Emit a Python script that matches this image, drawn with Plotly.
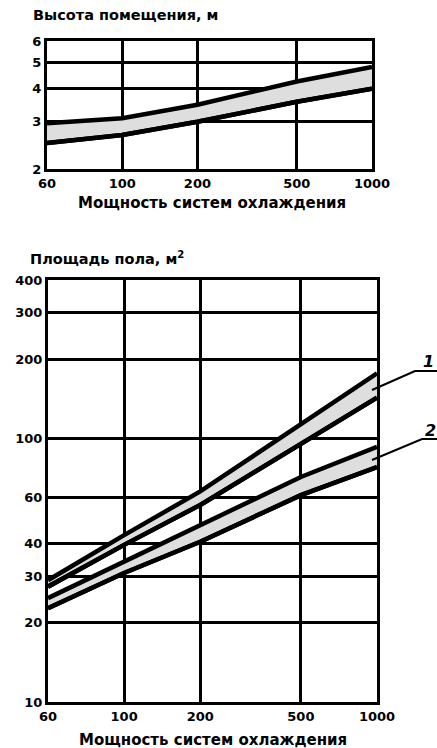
import math
import plotly.graph_objects as go

# ---------------- data ----------------
power = [50, 100, 200, 500, 1000]
power_tick_vals = [50, 100, 200, 500, 1000]
power_tick_text = ["60", "100", "200", "500", "1000"]

height_upper = [2.96, 3.09, 3.47, 4.24, 4.8]
height_lower = [2.5, 2.68, 3.0, 3.56, 3.98]
height_ticks = [2, 3, 4, 5, 6]

area1_upper = [29, 43, 63, 113, 177]
area1_lower = [27.4, 39.5, 56, 96, 143]
area2_upper = [24.8, 34, 47, 71.5, 93]
area2_lower = [22.7, 30.9, 40.6, 61, 78]
area_ticks = [10, 20, 30, 40, 60, 100, 200, 300, 400]

band_labels = ["1", "2"]

W, H = 437, 748
def px(x):
    return x / W
def py(y):
    return 1 - y / H

FONT = "DejaVu Sans"
FILL = "#dedede"
LW = 4.5

fig = go.Figure()

def band(lower, upper, xa, ya):
    fig.add_trace(go.Scatter(x=power, y=lower, mode="lines",
                             line=dict(color="black", width=LW),
                             xaxis=xa, yaxis=ya, showlegend=False, hoverinfo="skip"))
    fig.add_trace(go.Scatter(x=power, y=upper, mode="lines",
                             line=dict(color="black", width=LW),
                             fill="tonexty", fillcolor=FILL,
                             xaxis=xa, yaxis=ya, showlegend=False, hoverinfo="skip"))
    fig.add_trace(go.Scatter(x=power, y=lower, mode="lines",
                             line=dict(color="black", width=LW),
                             xaxis=xa, yaxis=ya, showlegend=False, hoverinfo="skip"))

band(height_lower, height_upper, "x", "y")
band(area1_lower, area1_upper, "x2", "y2")
band(area2_lower, area2_upper, "x2", "y2")

tickfont = dict(family=FONT, size=13, color="black", weight="bold")
common = dict(type="log", showgrid=True, gridcolor="black", gridwidth=3,
              showline=True, linecolor="black", linewidth=3, mirror=True,
              ticks="", tickfont=tickfont, zeroline=False, automargin=False,
              fixedrange=True)

fig.update_layout(
    width=W, height=H,
    margin=dict(l=0, r=0, t=0, b=0, autoexpand=False),
    paper_bgcolor="white", plot_bgcolor="white",
    xaxis=dict(domain=[px(47), px(372)], anchor="y",
               range=[math.log10(50), math.log10(1000)],
               tickvals=power_tick_vals, ticktext=power_tick_text, **common),
    yaxis=dict(domain=[py(169), py(41)], anchor="x",
               range=[math.log10(2), math.log10(6)],
               tickvals=height_ticks, ticktext=[str(v) for v in height_ticks], **common),
    xaxis2=dict(domain=[px(48), px(377)], anchor="y2",
                range=[math.log10(50), math.log10(1000)],
                tickvals=power_tick_vals, ticktext=power_tick_text, **common),
    yaxis2=dict(domain=[py(702), py(280)], anchor="x2",
                range=[math.log10(10), math.log10(400)],
                tickvals=area_ticks, ticktext=[str(v) for v in area_ticks], **common),
)

ann = [
    dict(text="Высота помещения, м", x=px(31), y=py(15), xanchor="left", yanchor="middle", size=14.5),
    dict(text="Мощность систем охлаждения", x=px(212), y=py(203), xanchor="center", yanchor="middle", size=15),
    dict(text="Площадь пола, м<sup>2</sup>", x=px(28), y=py(258), xanchor="left", yanchor="middle", size=14.5),
    dict(text="Мощность систем охлаждения", x=px(213), y=py(740), xanchor="center", yanchor="middle", size=15),
]
for a in ann:
    size = a.pop("size")
    fig.add_annotation(xref="paper", yref="paper", showarrow=False,
                       font=dict(family=FONT, size=size, color="black", weight="bold"), **a)

# band labels with leader lines
label_pos = [(428, 361), (430, 430)]
leaders = [[(372, 390), (415, 371), (437, 371)], [(372, 460), (422, 439), (437, 439)]]
for lab, (lx, ly), pts in zip(band_labels, label_pos, leaders):
    fig.add_annotation(xref="paper", yref="paper", x=px(lx), y=py(ly), text=f"<i>{lab}</i>",
                       showarrow=False, xanchor="center", yanchor="middle",
                       font=dict(family=FONT, size=16, color="black", weight="bold"))
    path = "M " + " L ".join(f"{px(x)},{py(y)}" for x, y in pts)
    fig.add_shape(type="path", xref="paper", yref="paper", path=path,
                  line=dict(color="black", width=2))

fig.write_html("out.html",
               config={"displayModeBar": False, "staticPlot": True},
               post_script="document.body.style.margin='0';document.body.style.overflow='hidden';")
